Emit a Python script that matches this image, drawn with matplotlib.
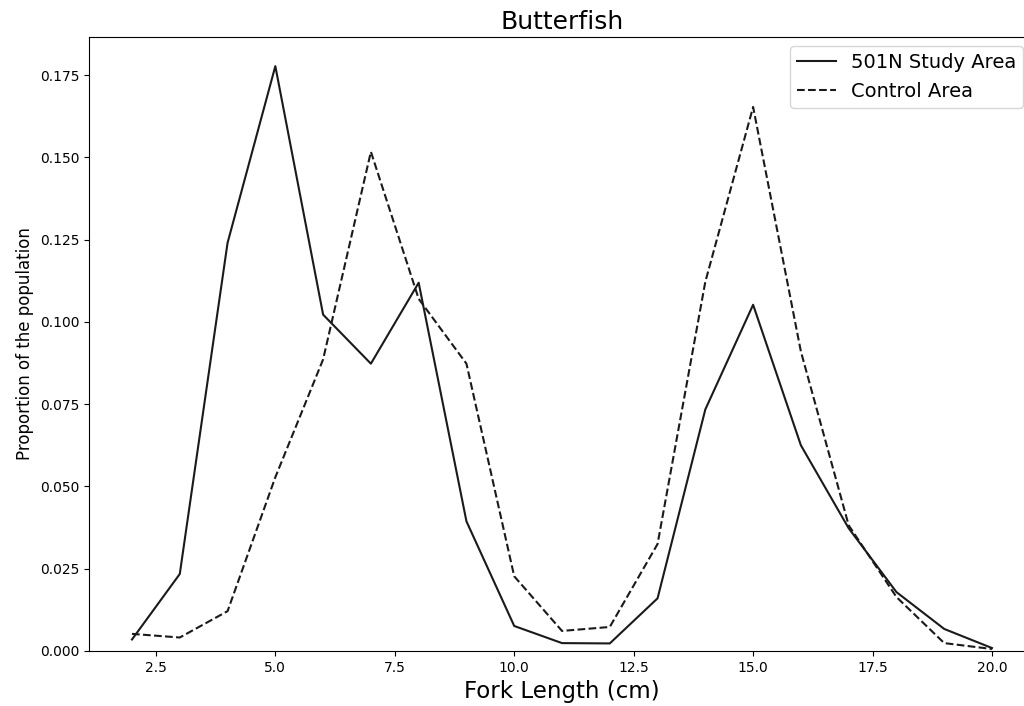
import numpy as np
import matplotlib
matplotlib.use("Agg")
import matplotlib.pyplot as plt

# fork length bins (cm)
length_cm = [2, 3, 4, 5, 6, 7, 8, 9, 10, 11, 12, 13, 14, 15, 16, 17, 18, 19, 20]
# proportion of population per bin
study_area = [0.0035, 0.0234, 0.124, 0.1777, 0.1022, 0.0873, 0.1119, 0.0394, 0.0076, 0.0024,
              0.0023, 0.016, 0.0734, 0.1052, 0.0625, 0.0373, 0.0179, 0.0067, 0.0009]
control_area = [0.0052, 0.0041, 0.0121, 0.0528, 0.0886, 0.1517, 0.107, 0.0873, 0.0227, 0.0061,
                0.0073, 0.0325, 0.1122, 0.1653, 0.091, 0.0382, 0.0164, 0.0024, 0.0006]

fig = plt.figure(figsize=(10.24, 7.06), dpi=100)
# right edge of the axes runs past the figure, as in the reference crop
ax = fig.add_axes([89/1024, 55/706, 946/1024, 614/706])
ax.patch.set_linewidth(0)
ax.plot(length_cm, study_area, color="#1a1a1a", lw=1.5, label="501N Study Area")
ax.plot(length_cm, control_area, color="#1a1a1a", lw=1.5, ls="--", label="Control Area")
ax.set_xlim(1.1, 20.9)
ax.set_ylim(bottom=0)
ax.spines["right"].set_visible(False)
ax.set_title("Butterfish", fontsize=18)
ax.set_xlabel("Fork Length (cm)", fontsize=16.5)
ax.set_ylabel("Proportion of the population", fontsize=12)
ax.tick_params(labelsize=10)
leg = ax.legend(fontsize=14, loc="upper right", bbox_to_anchor=(1022/1035, 0.985),
                borderaxespad=0.0, borderpad=0.35)
fig.savefig("out.png", dpi=100)
